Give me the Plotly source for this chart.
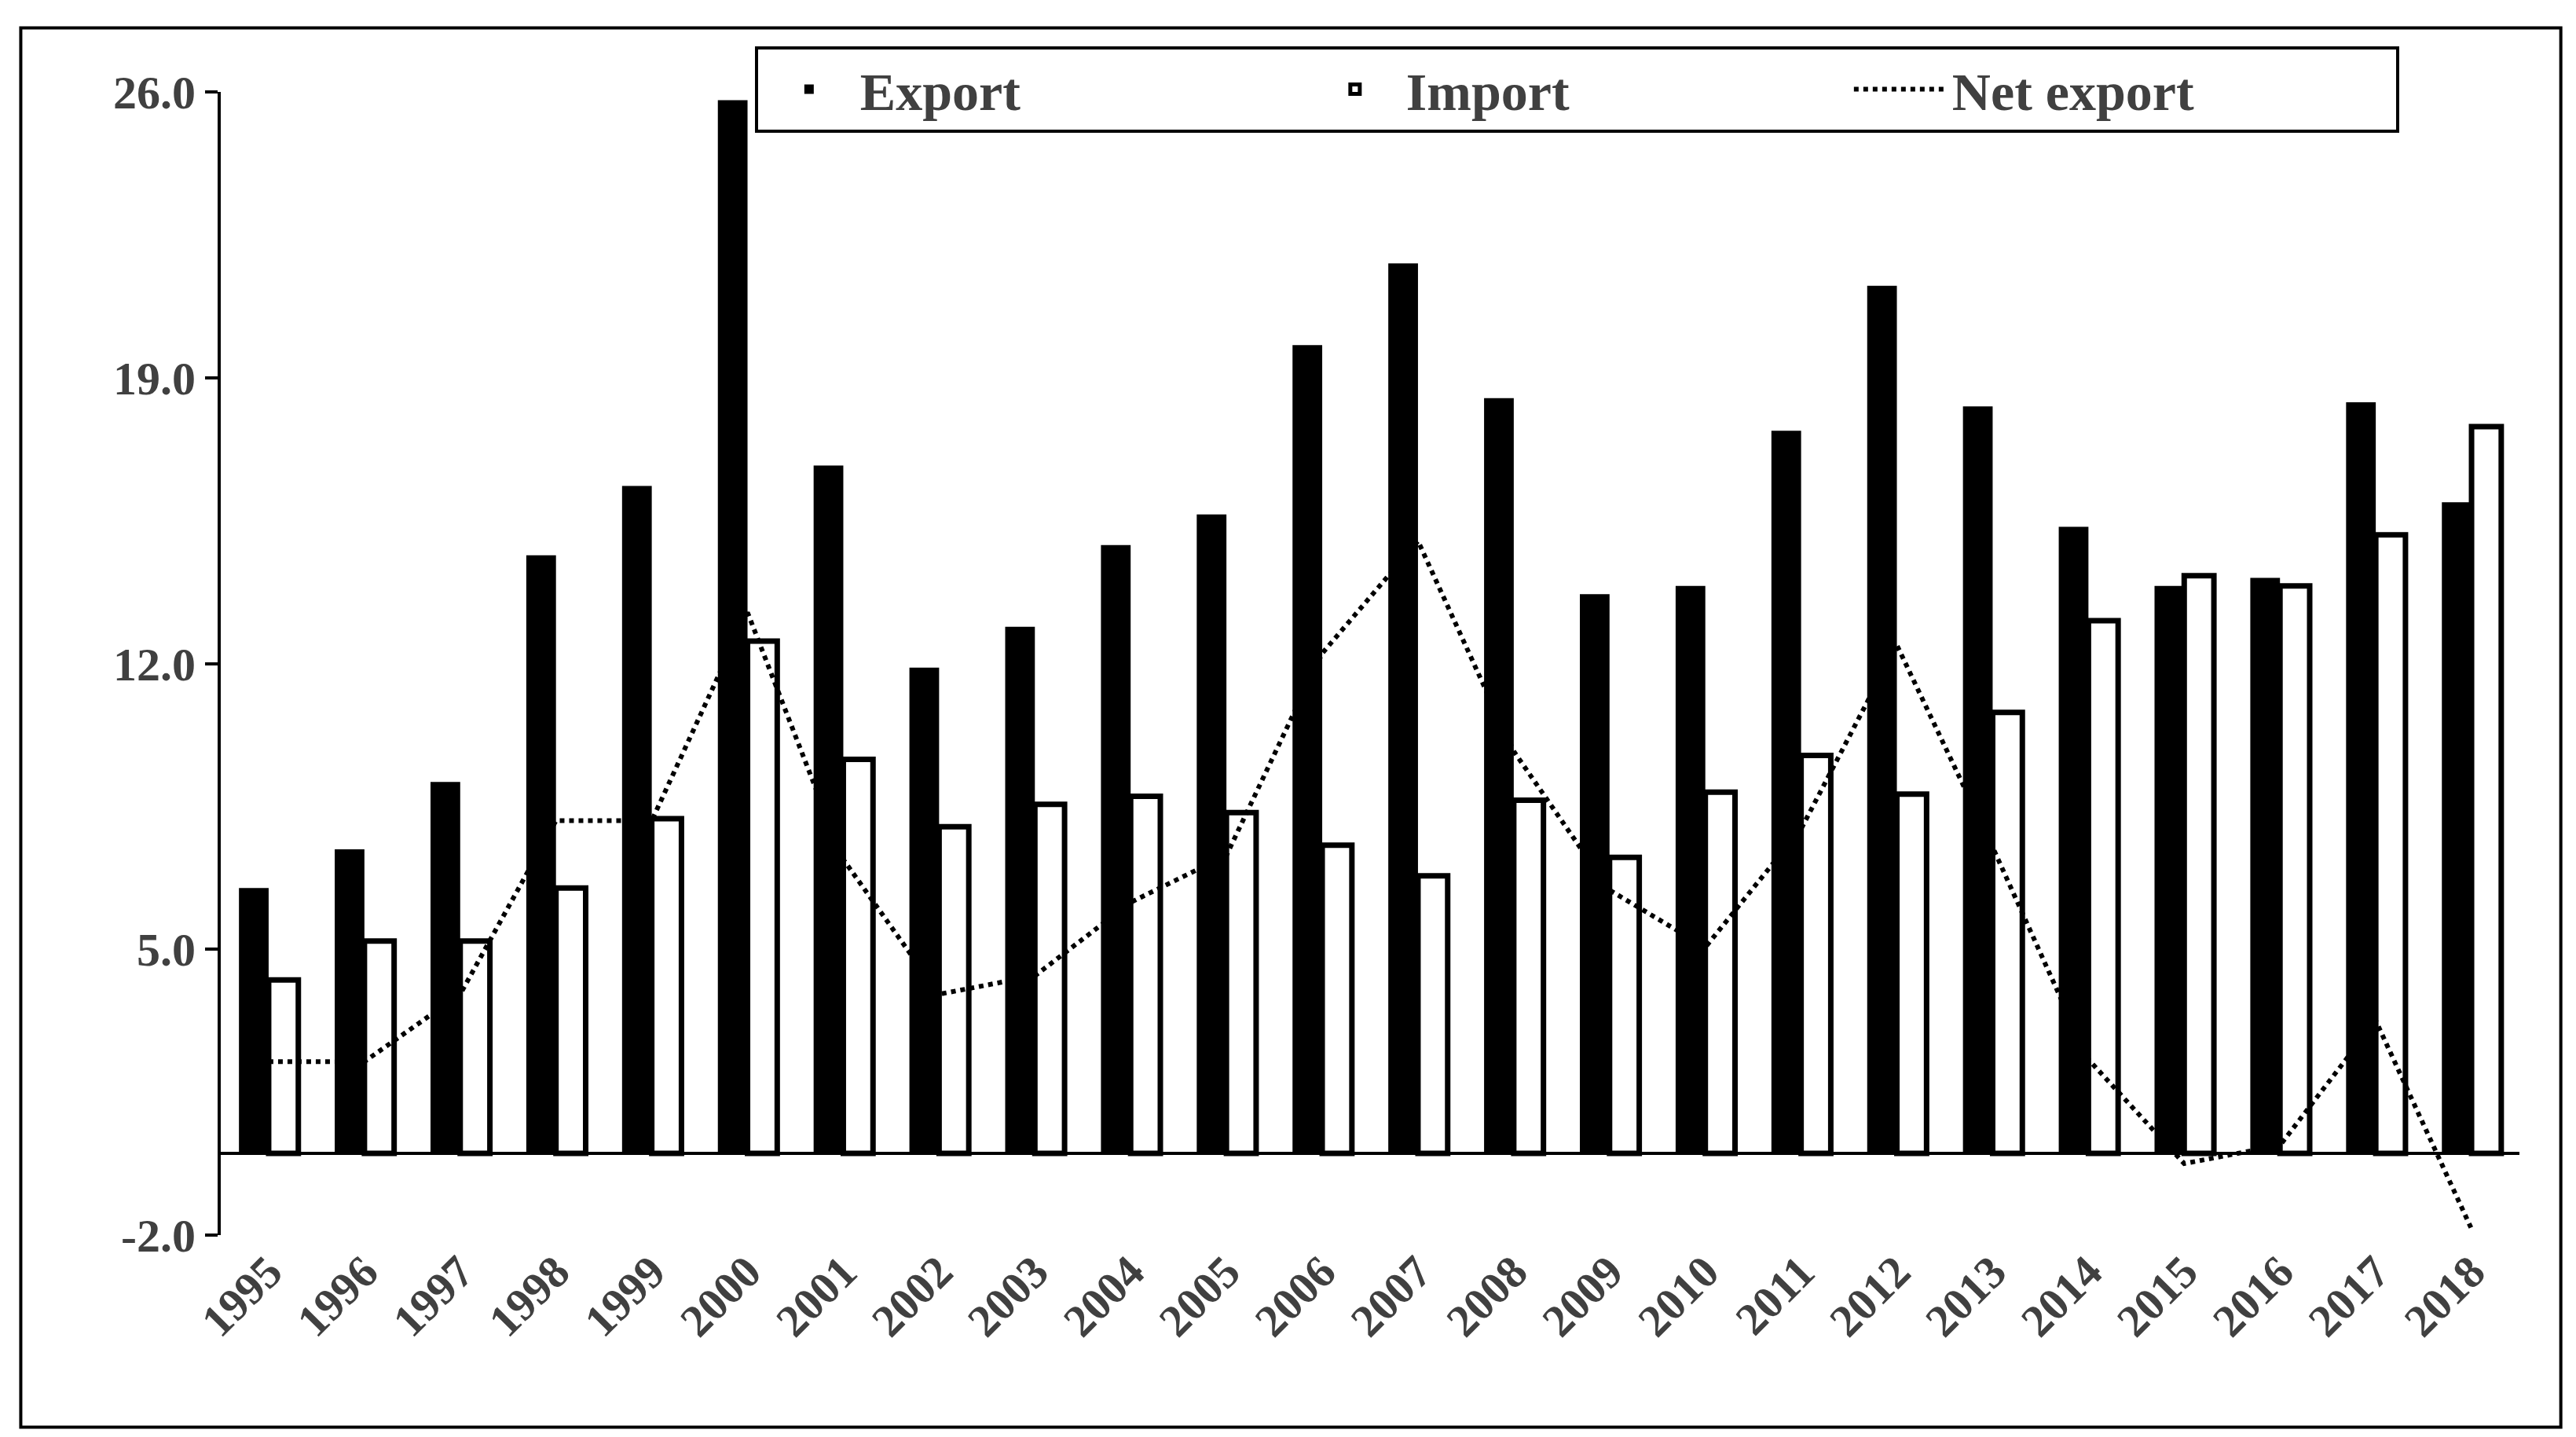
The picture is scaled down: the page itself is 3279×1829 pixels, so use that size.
import plotly.graph_objects as go

years = [str(y) for y in range(1995, 2019)]
export = [6.5, 7.45, 9.1, 14.65, 16.35, 25.8, 16.85, 11.9, 12.9, 14.9, 15.65, 19.8,
          21.8, 18.5, 13.7, 13.9, 17.7, 21.25, 18.3, 15.35, 13.9, 14.1, 18.4, 15.95]
imports = [4.25, 5.2, 5.2, 6.5, 8.2, 12.55, 9.65, 8.0, 8.55, 8.75, 8.35, 7.55,
           6.8, 8.65, 7.25, 8.85, 9.75, 8.8, 10.8, 13.05, 14.15, 13.9, 15.15, 17.8]
net_export = [2.25, 2.25, 3.9, 8.15, 8.15, 13.25, 7.2, 3.9, 4.35, 6.15, 7.3, 12.25,
              15.0, 9.85, 6.45, 5.05, 7.95, 12.45, 7.5, 2.3, -0.25, 0.2, 3.25, -1.85]
yticks = [-2, 5, 12, 19, 26]

gray = "#404040"
fig = go.Figure()
fig.add_bar(x=years, y=export, name="<b>Export</b>", marker=dict(color="black", line=dict(color="black", width=0)))
fig.add_bar(x=years, y=imports, name="<b>Import</b>", marker=dict(color="white", line=dict(color="black", width=7)))
fig.add_scatter(x=years, y=net_export, name="<b>Net export</b>", mode="lines",
                line=dict(color="black", width=6, dash="dot"))

fig.update_layout(
    width=3279, height=1829, plot_bgcolor="white", paper_bgcolor="white",
    margin=dict(l=273, r=80, t=109, b=265),
    barmode="group", bargap=0.38, bargroupgap=0.0,
    font=dict(family="Liberation Serif", size=60, color=gray),
    legend=dict(orientation="h", x=0.59, xanchor="center", y=1.04, yanchor="top",
                bordercolor="black", borderwidth=4,
                font=dict(family="Liberation Serif", size=68, color=gray),
                itemwidth=120, entrywidth=560, tracegroupgap=0),
    xaxis=dict(showline=False, tickangle=-45, ticks="", showgrid=False,
               tickvals=years, ticktext=[f"<b>{y}</b>" for y in years],
               tickfont=dict(family="Liberation Serif", size=58, color=gray)),
    yaxis=dict(range=[-2, 26], tickvals=yticks, ticktext=[f"<b>{v:.1f}</b>" for v in yticks],
               showline=True, linecolor="black", linewidth=4, ticks="outside", ticklen=16, tickwidth=4,
               tickcolor="black", showgrid=False, zeroline=True, zerolinecolor="black", zerolinewidth=4,
               tickfont=dict(family="Liberation Serif", size=60, color=gray)),
    shapes=[dict(type="rect", xref="paper", yref="paper", x0=-0.087, x1=1.018, y0=-0.168, y1=1.056,
                 line=dict(color="black", width=4))],
)
fig.write_html("out.html")
